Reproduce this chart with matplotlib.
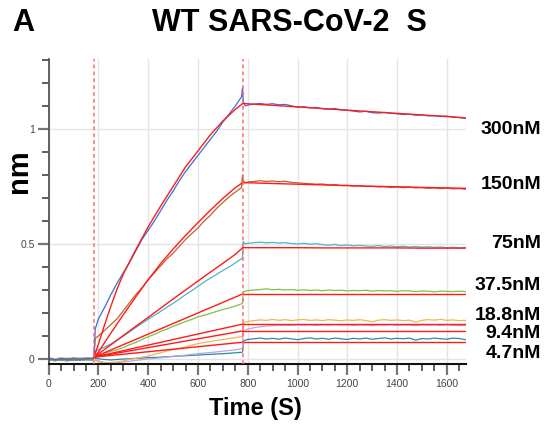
import matplotlib
matplotlib.use("Agg")
import matplotlib.pyplot as plt
from matplotlib.ticker import MultipleLocator, FixedLocator

plt.rcParams['font.family'] = ['Liberation Sans', 'DejaVu Sans']

# ---------------- data ----------------
t_base = [0, 25, 50, 75, 100, 125, 150, 175, 182]
t_assoc = [187, 200, 225, 250, 275, 300, 325, 350, 375, 400, 425, 450, 475, 500,
           525, 550, 575, 600, 625, 650, 675, 700, 725, 750, 775, 779]
t_dissoc = [782, 790] + list(range(800, 1676, 25))
time = t_base + t_assoc + t_dissoc

concentrations = ["300nM", "150nM", "75nM", "37.5nM", "18.8nM", "9.4nM", "4.7nM"]

nm_300 = ([0.005, -0.003, 0.002, -0.004, 0.003, -0.002, 0.004, 0.001, 0.008] +
          [0.13, 0.175, 0.225, 0.28, 0.33, 0.375, 0.42, 0.47, 0.52, 0.56, 0.60, 0.645, 0.69,
           0.73, 0.775, 0.815, 0.85, 0.885, 0.92, 0.955, 0.99, 1.03, 1.065, 1.10, 1.14, 1.18] +
          [1.12, 1.10, 1.104, 1.108, 1.111, 1.107, 1.110, 1.105, 1.107, 1.101, 1.095, 1.097,
           1.092, 1.094, 1.088, 1.086, 1.089, 1.083, 1.081, 1.078, 1.074, 1.077, 1.071, 1.069,
           1.072, 1.068, 1.066, 1.063, 1.064, 1.060, 1.061, 1.057, 1.058, 1.055, 1.056, 1.052,
           1.050, 1.047])
nm_150 = ([0.002, -0.004, -0.002, 0.003, -0.005, 0.001, -0.003, 0.002, 0.005] +
          [0.09, 0.10, 0.125, 0.15, 0.175, 0.21, 0.245, 0.28, 0.31, 0.345, 0.375, 0.405, 0.435,
           0.46, 0.49, 0.52, 0.545, 0.57, 0.60, 0.625, 0.655, 0.68, 0.705, 0.725, 0.745, 0.80] +
          [0.775, 0.765, 0.770, 0.772, 0.775, 0.772, 0.774, 0.771, 0.773, 0.768, 0.766, 0.764,
           0.762, 0.760, 0.761, 0.757, 0.758, 0.754, 0.755, 0.752, 0.753, 0.750, 0.751, 0.748,
           0.749, 0.746, 0.748, 0.745, 0.747, 0.744, 0.745, 0.742, 0.744, 0.741, 0.743, 0.740,
           0.741, 0.738])
nm_75 = ([-0.002, -0.006, 0.001, -0.004, 0.002, -0.003, 0.000, -0.002, 0.004] +
         [0.035, 0.04, 0.052, 0.065, 0.082, 0.10, 0.118, 0.137, 0.155, 0.173, 0.19, 0.207, 0.225,
          0.242, 0.26, 0.28, 0.297, 0.316, 0.335, 0.352, 0.368, 0.385, 0.40, 0.418, 0.436, 0.44] +
         [0.51, 0.50, 0.503, 0.506, 0.508, 0.505, 0.507, 0.504, 0.506, 0.502, 0.500, 0.503,
          0.499, 0.501, 0.497, 0.495, 0.498, 0.493, 0.496, 0.492, 0.494, 0.491, 0.490, 0.493,
          0.489, 0.491, 0.488, 0.490, 0.487, 0.489, 0.486, 0.488, 0.485, 0.487, 0.484, 0.486,
          0.483, 0.485])
nm_37 = ([-0.004, -0.008, -0.003, -0.006, 0.000, -0.004, -0.002, -0.005, 0.002] +
         [0.01, 0.015, 0.025, 0.033, 0.04, 0.05, 0.062, 0.072, 0.085, 0.097, 0.107, 0.12, 0.13,
          0.142, 0.152, 0.163, 0.172, 0.184, 0.19, 0.198, 0.207, 0.215, 0.222, 0.23, 0.24, 0.243] +
         [0.292, 0.295, 0.297, 0.300, 0.302, 0.305, 0.301, 0.303, 0.300, 0.302, 0.299, 0.301,
          0.298, 0.300, 0.297, 0.300, 0.298, 0.299, 0.296, 0.298, 0.297, 0.299, 0.295, 0.298,
          0.296, 0.297, 0.294, 0.297, 0.296, 0.293, 0.296, 0.295, 0.292, 0.295, 0.294, 0.293,
          0.295, 0.293])
nm_18 = ([0.003, -0.002, 0.004, -0.001, 0.002, 0.005, 0.001, 0.003, 0.001] +
         [-0.005, -0.012, -0.018, -0.015, -0.012, -0.008, -0.002, 0.003, 0.008, 0.013, 0.02,
          0.027, 0.035, 0.04, 0.046, 0.053, 0.06, 0.067, 0.072, 0.076, 0.081, 0.085, 0.089,
          0.093, 0.097, 0.10] +
         [0.155, 0.160, 0.163, 0.167, 0.170, 0.168, 0.172, 0.168, 0.171, 0.167, 0.170, 0.172,
          0.168, 0.170, 0.167, 0.171, 0.169, 0.166, 0.170, 0.168, 0.171, 0.167, 0.162, 0.169,
          0.171, 0.168, 0.170, 0.167, 0.169, 0.160, 0.168, 0.171, 0.169, 0.172, 0.168, 0.170,
          0.167, 0.168])
nm_9 = ([0.004, 0.001, 0.006, 0.002, 0.007, 0.003, 0.005, 0.006, 0.002] +
        [-0.003, -0.008, -0.015, -0.018, -0.017, -0.012, -0.01, -0.006, -0.003, 0.0, 0.002,
         0.005, 0.008, 0.012, 0.014, 0.017, 0.02, 0.023, 0.026, 0.028, 0.031, 0.034, 0.037,
         0.040, 0.045, 0.048] +
        [0.118, 0.125, 0.130, 0.136, 0.140, 0.143, 0.145, 0.146, 0.147, 0.146, 0.148, 0.147,
         0.148, 0.146, 0.148, 0.147, 0.149, 0.147, 0.148, 0.146, 0.148, 0.147, 0.145, 0.148,
         0.147, 0.149, 0.146, 0.148, 0.147, 0.145, 0.148, 0.147, 0.148, 0.146, 0.148, 0.147,
         0.145, 0.146])
nm_4 = ([-0.003, -0.007, -0.005, -0.008, -0.004, -0.006, -0.003, -0.005, 0.000] +
        [0.003, 0.001, -0.002, -0.004, -0.002, 0.0, 0.001, 0.003, 0.004, 0.006, 0.007, 0.008,
         0.010, 0.011, 0.013, 0.014, 0.016, 0.017, 0.019, 0.020, 0.022, 0.023, 0.025, 0.027,
         0.029, 0.03] +
        [0.075, 0.082, 0.085, 0.088, 0.091, 0.087, 0.090, 0.086, 0.091, 0.088, 0.084, 0.089,
         0.092, 0.087, 0.090, 0.086, 0.091, 0.088, 0.085, 0.090, 0.087, 0.091, 0.086, 0.089,
         0.092, 0.087, 0.090, 0.088, 0.091, 0.082, 0.089, 0.087, 0.091, 0.088, 0.086, 0.091,
         0.089, 0.084])

# fitted curves
fit_t_assoc = [182, 200, 225, 250, 275, 300, 350, 400, 450, 500, 550, 600, 650, 700, 750, 780]
fit_300_assoc = [0.008, 0.065, 0.15, 0.23, 0.305, 0.37, 0.475, 0.575, 0.665, 0.75, 0.835,
                 0.905, 0.975, 1.035, 1.085, 1.111]
fit_150_assoc = [0.008, 0.03, 0.072, 0.113, 0.153, 0.193, 0.27, 0.345, 0.415, 0.478, 0.537,
                 0.593, 0.647, 0.698, 0.745, 0.767]
fit_75_assoc = [0.008, 0.022, 0.042, 0.062, 0.082, 0.102, 0.142, 0.181, 0.221, 0.261, 0.300,
                0.339, 0.378, 0.416, 0.455, 0.484]
fit_t_dissoc = [780, 900, 1000, 1100, 1200, 1300, 1400, 1500, 1600, 1676]
fit_300_dissoc = [1.111, 1.103, 1.096, 1.089, 1.082, 1.075, 1.068, 1.061, 1.054, 1.048]
fit_150_dissoc = [0.767, 0.763, 0.760, 0.757, 0.754, 0.751, 0.749, 0.746, 0.744, 0.742]
fit_75_dissoc = [0.484, 0.484, 0.484, 0.483, 0.483, 0.483, 0.483, 0.482, 0.482, 0.482]
# low concentrations: start value, value at end of association, value at end of dissociation
fit_low_start = 0.008
fit_low_plateau = [0.283, 0.152, 0.122, 0.073]
fit_low_end = [0.283, 0.152, 0.122, 0.073]

assoc_start = 182
dissoc_start = 780
x_end = 1676

trace_colors = ['#3d6fd1', '#c4602e', '#4fb3c9', '#7dc242', '#f2b450', '#b7a6ee', '#2b8c9c']
label_y_px = [130, 185, 243, 285, 315, 334, 353]

# ---------------- figure ----------------
W, H = 546, 428
fig = plt.figure(figsize=(W / 100, H / 100), dpi=100)
ax_l, ax_r, ax_t, ax_b = 48.7, 465.7, 59, 364
ax = fig.add_axes([ax_l / W, 1 - ax_b / H, (ax_r - ax_l) / W, (ax_b - ax_t) / H])
ax.set_xlim(0, x_end)
ax.set_ylim(-0.0217, 1.3043)

ax.grid(True, which='major', color='#e4e4e4', lw=1.0, zorder=0)
ax.set_axisbelow(True)

traces = [nm_300, nm_150, nm_75, nm_37, nm_18, nm_9, nm_4]
for vals, c in reversed(list(zip(traces, trace_colors))):
    ax.plot(time, vals, color=c, lw=0.9, zorder=2)

red = '#ff1a1a'
for a, d in [(fit_300_assoc, fit_300_dissoc), (fit_150_assoc, fit_150_dissoc),
             (fit_75_assoc, fit_75_dissoc)]:
    ax.plot(fit_t_assoc, a, color=red, lw=1.0, zorder=3)
    ax.plot(fit_t_dissoc, d, color=red, lw=1.0, zorder=3)
for p, e in zip(fit_low_plateau, fit_low_end):
    ax.plot([assoc_start, dissoc_start], [fit_low_start, p], color=red, lw=1.0, zorder=3)
    ax.plot([dissoc_start, x_end], [p, e], color=red, lw=1.0, zorder=3)

for xv in (assoc_start, dissoc_start):
    ax.axvline(xv, color='#ff6b6b', lw=1.1, ls=(0, (2.5, 2)), zorder=4)

# axes styling
for s in ('top', 'right'):
    ax.spines[s].set_visible(False)
ax.spines['left'].set_color('#555555')
ax.spines['left'].set_linewidth(1.3)
ax.spines['bottom'].set_color('#111111')
ax.spines['bottom'].set_linewidth(1.5)

ax.xaxis.set_major_locator(MultipleLocator(200))
ax.xaxis.set_minor_locator(MultipleLocator(50))
ax.yaxis.set_major_locator(FixedLocator([0, 0.5, 1.0]))
ax.yaxis.set_minor_locator(MultipleLocator(0.1))
ax.set_yticklabels(['0', '0.5', '1'])
ax.tick_params(which='major', direction='out', length=8, width=1.6, color='#777777',
               labelsize=7.5, labelcolor='#444444', pad=2)
ax.tick_params(which='minor', direction='out', length=5, width=1.1, color='#333333')
ax.tick_params(axis='x', which='major', pad=3)

# texts
fig.text(12 / W, 1 - 23 / H, 'A', fontsize=22, fontweight='bold', ha='left', va='center')
fig.text(289 / W, 1 - 23 / H, 'WT SARS-CoV-2  S', fontsize=22, fontweight='bold',
         ha='center', va='center')
fig.text(19 / W, 1 - 171 / H, 'nm', fontsize=21, fontweight='bold', rotation=90,
         ha='center', va='center')
fig.text(255 / W, 1 - 409 / H, 'Time (S)', fontsize=17, fontweight='bold',
         ha='center', va='center')
for lab, yp in zip(concentrations, label_y_px):
    fig.text(541 / W, 1 - yp / H, lab, fontsize=14, fontweight='bold', ha='right', va='center')

fig.savefig('out.png', dpi=100)
